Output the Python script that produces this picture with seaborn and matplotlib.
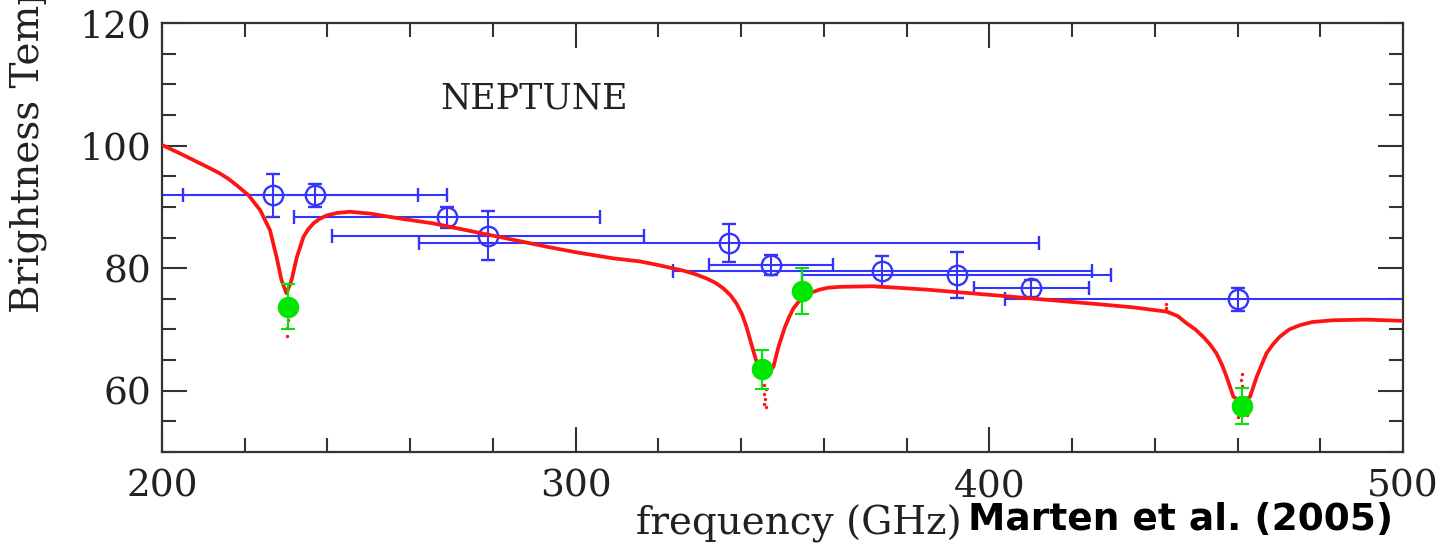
import matplotlib
matplotlib.use("Agg")
import matplotlib.pyplot as plt
from matplotlib.ticker import MultipleLocator
import pandas as pd
import seaborn as sns

# Model brightness-temperature spectrum (GHz, K)
model_freq = [200.0, 204.4, 209.2, 211.6, 214.0, 216.0, 218.1, 220.9, 223.7, 226.1,
              227.7, 228.9, 230.1, 231.3, 232.6, 234.2, 235.3, 236.6, 238.0, 239.8,
              242.3, 245.4, 250.3, 257.5, 265.6, 279.3, 293.0, 300.0, 309.1, 315.5,
              320.0, 323.6, 326.0, 329.0, 331.7, 333.8, 335.7, 337.4, 338.9, 340.2,
              341.3, 342.9, 344.1, 345.8, 347.8, 348.4, 349.0, 350.6, 351.6, 352.6,
              354.0, 355.8, 357.3, 359.0, 361.0, 363.9, 371.9, 384.8, 400.9, 417.1,
              426.7, 434.8, 442.9, 445.5, 447.7, 449.8, 451.7, 453.3, 454.9, 456.2,
              457.4, 459.0, 461.0, 463.0, 464.6, 465.8, 467.0, 468.6, 470.2, 472.5,
              475.1, 478.0, 483.1, 491.2, 500.0]
model_tb = [100.1, 98.7, 97.1, 96.3, 95.45, 94.6, 93.5, 91.9, 89.5, 86.2,
            81.8, 78.0, 75.9, 78.0, 81.8, 85.1, 86.3, 87.3, 88.0, 88.6,
            89.0, 89.2, 88.9, 88.1, 87.3, 85.4, 83.5, 82.6, 81.6, 81.1,
            80.5, 79.95, 79.6, 79.0, 78.3, 77.6, 76.7, 75.6, 74.2, 72.5,
            70.4, 66.6, 63.9, 62.2, 63.9, 65.5, 67.1, 70.4, 72.0, 73.4,
            74.6, 75.6, 76.1, 76.5, 76.8, 76.95, 77.05, 76.5, 75.6, 74.65,
            74.1, 73.6, 72.9, 72.2, 71.0, 70.0, 68.8, 67.6, 66.1, 64.3,
            62.2, 59.0, 58.2, 59.0, 62.2, 64.2, 66.1, 67.6, 68.8, 70.0,
            70.7, 71.2, 71.5, 71.6, 71.4]

# Scattered model samples near the CO line cores
spread_freq = [230.3, 230.2, 230.4, 230.3, 230.2,
               345.6, 345.9, 345.5, 345.8, 345.6, 345.9,
               461.0, 460.9, 461.1, 460.0, 462.2, 442.6, 442.8]
spread_tb = [74.5, 73.0, 71.5, 70.2, 69.0,
             61.0, 60.2, 59.4, 58.6, 57.8, 57.3,
             62.8, 61.8, 60.8, 55.7, 56.0, 74.2, 73.5]

# Broadband continuum measurements
cont_freq = [226.9, 237.0, 268.8, 278.9, 337.1, 347.2, 374.1, 392.1, 410.1, 460.0]
cont_tb = [91.9, 91.9, 88.3, 85.3, 84.1, 80.5, 79.5, 78.85, 76.7, 74.9]
cont_bw = [35.0, 32.0, 37.0, 37.7, 75.0, 15.0, 50.6, 37.4, 13.9, 56.2]
cont_err = [3.5, 1.9, 1.7, 4.0, 3.1, 1.7, 2.5, 3.8, 1.4, 1.9]

# Line-core measurements
line_freq = [230.4, 345.1, 354.6, 461.1]
line_tb = [73.7, 63.5, 76.3, 57.5]
line_err = [3.7, 3.2, 3.8, 2.9]

sns.set_theme(style="ticks")
plt.rcParams["font.family"] = ["DejaVu Serif"]

fig = plt.figure(figsize=(14.41, 5.48), dpi=100)
ax = fig.add_axes([162 / 1441, 1 - 452 / 548, (1403 - 162) / 1441, (452 - 23) / 548])

blue = "#3434ff"
red = "#ff1414"
green = "#00e600"

ax.errorbar(cont_freq, cont_tb, xerr=cont_bw, yerr=cont_err, fmt="o", ms=14,
            mfc="none", mec=blue, mew=1.7, color=blue, ecolor=blue,
            elinewidth=1.5, capsize=5, capthick=1.5, zorder=2)

model = pd.DataFrame({"freq": model_freq, "tb": model_tb})
sns.lineplot(data=model, x="freq", y="tb", color=red, linewidth=2.7,
             sort=False, ax=ax, zorder=3, solid_joinstyle="round")
sns.scatterplot(x=spread_freq, y=spread_tb, color=red, s=6, marker="o",
                linewidth=0, ax=ax, zorder=3)

ax.errorbar(line_freq, line_tb, yerr=line_err, fmt="none", ecolor=green,
            elinewidth=1.5, capsize=5, capthick=1.5, zorder=4)
sns.scatterplot(x=line_freq, y=line_tb, color=green, s=240, marker="o",
                linewidth=0, ax=ax, zorder=5)

ax.set_xlim(200, 500)
ax.set_ylim(50, 120)
ax.set_xticks([200, 300, 400, 500])
ax.set_yticks([60, 80, 100, 120])
ax.xaxis.set_minor_locator(MultipleLocator(20))
ax.yaxis.set_minor_locator(MultipleLocator(5))
ax.tick_params(which="both", direction="in", top=True, right=True,
               color="#333333", width=1.5)
ax.tick_params(which="major", length=18, labelsize=27, labelcolor="#222222")
ax.tick_params(axis="x", which="major", pad=12)
ax.tick_params(axis="y", which="major", pad=8)
ax.tick_params(which="minor", length=10)
for side in ax.spines.values():
    side.set_color("#333333")
    side.set_linewidth(1.6)
ax.set_xlabel("")
ax.set_ylabel("")

ax.text(290, 107.7, "NEPTUNE", ha="center", va="center", fontsize=25,
        color="#222222")

fig.text(962 / 1441, 1 - 524 / 548, "frequency (GHz)", ha="right", va="center",
         fontsize=28, color="#222222")
fig.text(29 / 1441, 1 - 313 / 548, "Brightness Temperature (K)", rotation=90,
         ha="center", va="bottom", fontsize=28, color="#222222")
fig.text(968 / 1441, 1 - 520 / 548, "Marten et al. (2005)", ha="left",
         va="center", fontsize=27, fontweight="bold", family="DejaVu Sans",
         color="black")

fig.savefig("out.png", dpi=100)
